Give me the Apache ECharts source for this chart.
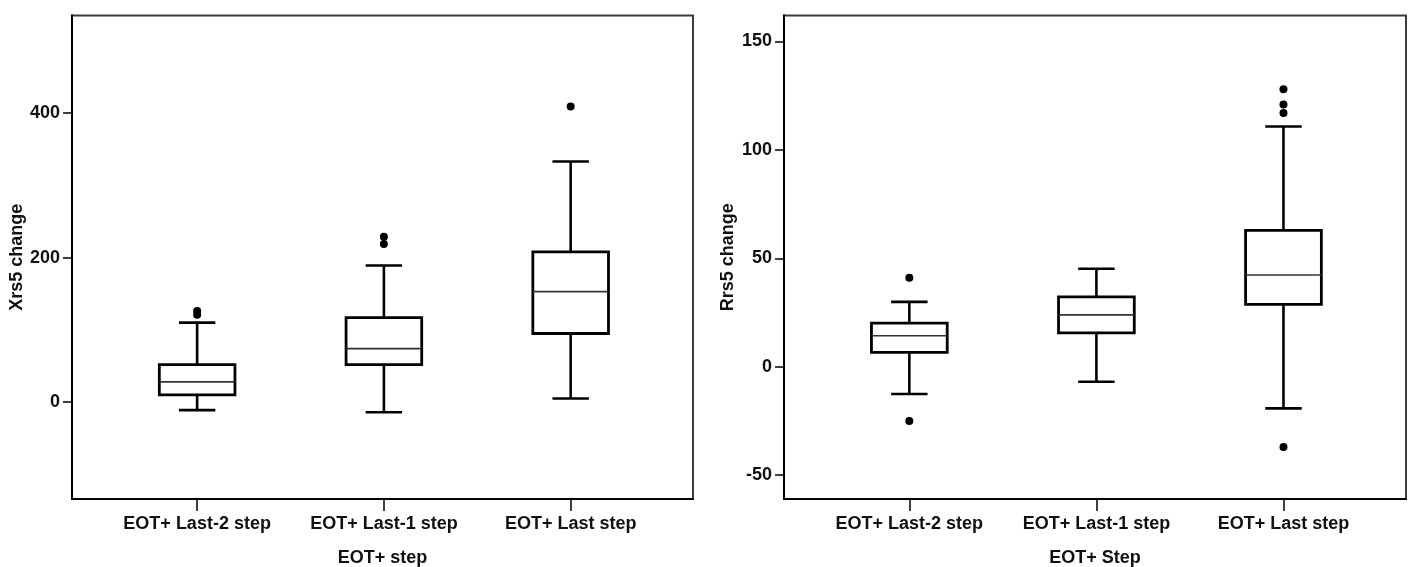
<!DOCTYPE html>
<html>
<head>
<meta charset="utf-8">
<script src="https://cdn.jsdelivr.net/npm/echarts@6/dist/echarts.min.js"></script>
<style>
  html, body { margin: 0; padding: 0; background: #fff; }
  #chart { width: 1413px; height: 567px; }
</style>
</head>
<body>
<div id="chart"></div>
<script>
// categories shared by both panels
var categories = ['EOT+ Last-2 step', 'EOT+ Last-1 step', 'EOT+ Last step'];

// box values: [low whisker, Q1, median, Q3, high whisker]
var xrs5Boxes = [
    [-11, 10, 28, 52, 110],
    [-14, 52, 74, 117, 189],
    [5, 95, 153, 208, 333]
];
// outliers: [category index, value]
var xrs5Outliers = [[0, 121], [0, 126], [1, 219], [1, 229], [2, 409]];

var rrs5Boxes = [
    [-12.6, 6.6, 14.3, 20.1, 29.9],
    [-6.9, 15.6, 23.9, 32.2, 45.2],
    [-19.2, 28.8, 42.3, 62.9, 110.8]
];
var rrs5Outliers = [[0, 41], [0, -25], [2, 117], [2, 121], [2, 128], [2, -37]];

var xrs5Ticks = [0, 200, 400];
var rrs5Ticks = [-50, 0, 50, 100, 150];
var catTicks = [1, 2, 3];

var FONT = "'Liberation Sans', Arial, sans-serif";
var BOX_W = 0.405;   // in x-axis units
var CAP_W = 0.195;

function renderBox(params, api) {
    var x = api.value(0);
    var low = api.coord([x, api.value(1)]);
    var q1 = api.coord([x, api.value(2)]);
    var med = api.coord([x, api.value(3)]);
    var q3 = api.coord([x, api.value(4)]);
    var high = api.coord([x, api.value(5)]);
    var hb = api.size([BOX_W, 0])[0] / 2;
    var hc = api.size([CAP_W, 0])[0] / 2;
    var cx = low[0];
    var st = { stroke: '#000', lineWidth: 2.6, fill: null };
    return {
        type: 'group',
        children: [
            { type: 'line', shape: { x1: cx, y1: high[1], x2: cx, y2: q3[1] }, style: st },
            { type: 'line', shape: { x1: cx, y1: q1[1], x2: cx, y2: low[1] }, style: st },
            { type: 'line', shape: { x1: cx - hc, y1: high[1], x2: cx + hc, y2: high[1] }, style: st },
            { type: 'line', shape: { x1: cx - hc, y1: low[1], x2: cx + hc, y2: low[1] }, style: st },
            { type: 'rect', shape: { x: cx - hb, y: q3[1], width: hb * 2, height: q1[1] - q3[1] },
              style: { stroke: '#000', lineWidth: 2.8, fill: '#fff' } },
            { type: 'line', shape: { x1: cx - hb, y1: med[1], x2: cx + hb, y2: med[1] },
              style: { stroke: '#333', lineWidth: 1.6 } }
        ]
    };
}

function xAxisFor(idx, name) {
    return {
        type: 'value',
        gridIndex: idx,
        min: 0.33,
        max: 3.655,
        name: name,
        nameLocation: 'middle',
        nameGap: 50,
        nameTextStyle: { fontFamily: FONT, fontWeight: 'bold', fontSize: 18, color: '#111' },
        splitLine: { show: false },
        axisLine: { show: true, onZero: false, lineStyle: { color: '#000', width: 2 } },
        axisTick: { show: true, length: 12, customValues: catTicks, lineStyle: { color: '#000', width: 1.5 } },
        axisLabel: {
            customValues: catTicks,
            margin: 16,
            fontFamily: FONT, fontWeight: 'bold', fontSize: 18, color: '#111',
            formatter: function (v) { return categories[Math.round(v) - 1]; }
        }
    };
}

function yAxisFor(idx, name, min, max, ticks, gap) {
    return {
        type: 'value',
        gridIndex: idx,
        min: min,
        max: max,
        name: name,
        nameLocation: 'middle',
        nameGap: gap,
        nameTextStyle: { fontFamily: FONT, fontWeight: 'bold', fontSize: 18, color: '#111' },
        splitLine: { show: false },
        axisLine: { show: true, onZero: false, lineStyle: { color: '#000', width: 2 } },
        axisTick: { show: true, length: 9, customValues: ticks, lineStyle: { color: '#000', width: 1.5 } },
        axisLabel: {
            customValues: ticks,
            margin: 12,
            fontFamily: FONT, fontWeight: 'bold', fontSize: 18, color: '#111'
        }
    };
}

function boxData(boxes) {
    return boxes.map(function (b, i) { return [i + 1].concat(b); });
}

function outlierData(list) {
    return list.map(function (o) { return [o[0] + 1, o[1]]; });
}

var chart = echarts.init(document.getElementById('chart'));

chart.setOption({
    animation: false,
    backgroundColor: '#fff',
    grid: [
        { left: 72, right: 720, top: 15.5, bottom: 68, outerBoundsMode: 'none', containLabel: false,
          show: true, borderColor: '#3c3c3c', borderWidth: 2, backgroundColor: '#fff' },
        { left: 784, right: 7, top: 15.5, bottom: 68, outerBoundsMode: 'none', containLabel: false,
          show: true, borderColor: '#3c3c3c', borderWidth: 2, backgroundColor: '#fff' }
    ],
    xAxis: [xAxisFor(0, 'EOT+ step'), xAxisFor(1, 'EOT+ Step')],
    yAxis: [
        yAxisFor(0, 'Xrs5 change', -134, 535, xrs5Ticks, 41),
        yAxisFor(1, 'Rrs5 change', -61, 162, rrs5Ticks, 47)
    ],
    series: [
        {
            type: 'custom', xAxisIndex: 0, yAxisIndex: 0,
            renderItem: renderBox,
            encode: { x: 0, y: [1, 2, 3, 4, 5] },
            data: boxData(xrs5Boxes)
        },
        {
            type: 'scatter', xAxisIndex: 0, yAxisIndex: 0,
            symbolSize: 8,
            itemStyle: { color: '#000', opacity: 1 },
            data: outlierData(xrs5Outliers)
        },
        {
            type: 'custom', xAxisIndex: 1, yAxisIndex: 1,
            renderItem: renderBox,
            encode: { x: 0, y: [1, 2, 3, 4, 5] },
            data: boxData(rrs5Boxes)
        },
        {
            type: 'scatter', xAxisIndex: 1, yAxisIndex: 1,
            symbolSize: 8,
            itemStyle: { color: '#000', opacity: 1 },
            data: outlierData(rrs5Outliers)
        }
    ]
});
</script>
</body>
</html>
